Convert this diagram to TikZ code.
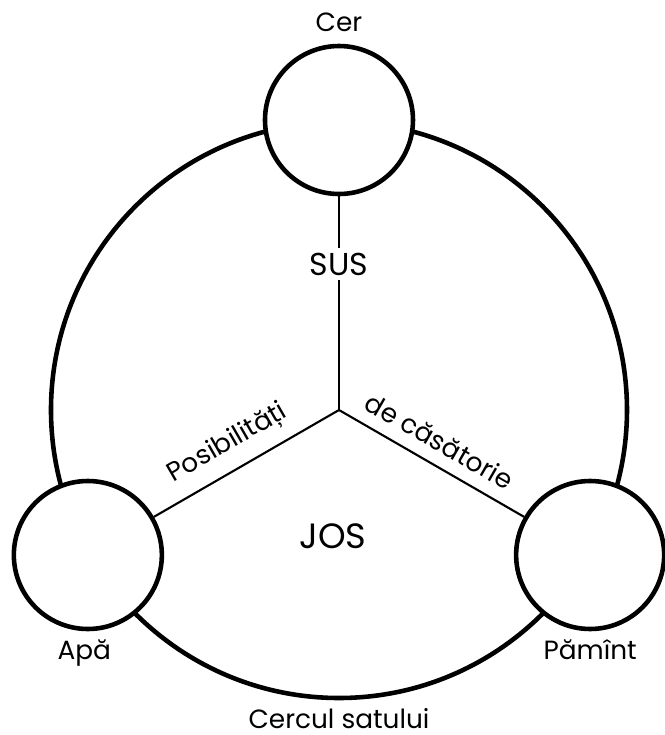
\documentclass[tikz,border=0pt]{standalone}
\usepackage{fontspec}
\setmainfont{Poppins}
\tikzset{
    satstyle/.style={circle, draw, line width=1.3pt, minimum size=5.76cm, inner sep=0pt},
    loc/.style={circle, draw, fill=white, line width=1.3pt, minimum size=1.48cm, inner sep=0pt},
    txt/.style={font=\fontsize{7.5}{8}\selectfont, inner sep=1pt}
}
\begin{document}
\begin{tikzpicture}[line width=0.6pt]
    \useasboundingbox (-3.39,-3.25) rectangle (3.26,4.10);
    \coordinate (o) at (0,0);
    \node[satstyle] (sat) at (o) {};
    \node[txt, below=1pt] at (sat.south) {Cercul satului};
    % cele trei locuri
    \node[loc] (cer) at (90:2.9) {};
    \node[loc] (apa) at (210:2.9) {};
    \node[loc] (pamint) at (330:2.9) {};
    \node[txt, above=2pt] at (cer.north) {Cer};
    \node[txt, below=1pt, xshift=-1pt] at (apa.south) {Apă};
    \node[txt, below=1pt] at (pamint.south) {Pămînt};
    % axele
    \node[txt, font=\fontsize{9}{10}\selectfont] (sus) at (0,1.46) {SUS};
    \draw (o) -- (sus) -- (cer);
    \draw (apa) -- node[txt, sloped, above=2.5pt, pos=0.47]{Posibilități} (o);
    \draw (o) -- node[txt, sloped, above=2.5pt, pos=0.48]{de căsătorie} (pamint);
    \node[txt, font=\fontsize{10}{11}\selectfont] (jos) at (-0.06,-1.26) {JOS};
\end{tikzpicture}
\end{document}
